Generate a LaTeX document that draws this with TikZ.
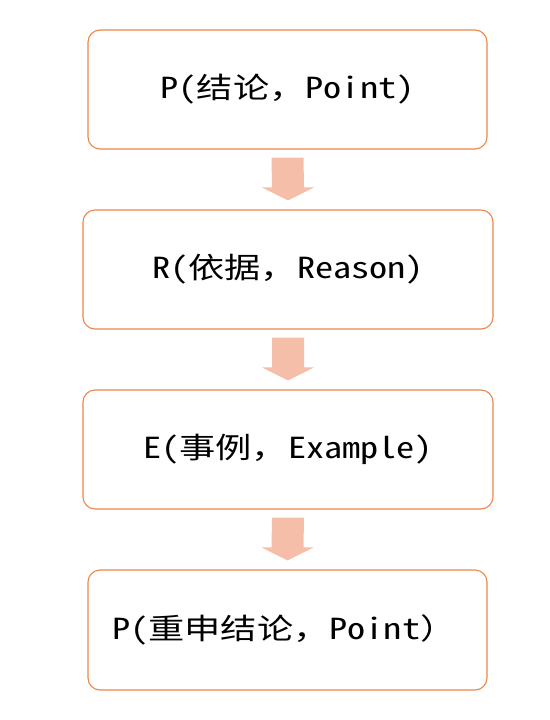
\documentclass[tikz,border=0pt]{standalone}
\usepackage{fontspec}
\newfontfamily\cjk{Noto Sans CJK SC}
\newfontfamily\halflat[RawFeature=+hwid]{Noto Sans CJK SC}
\usetikzlibrary{calc}
\definecolor{boxline}{RGB}{235,135,72}
\definecolor{arrowfill}{RGB}{244,190,168}
\newcommand\widetext[1]{\scalebox{1.25}[1]{#1}}
\newcommand\hl[1]{{\halflat #1}}
\tikzset{
  stepbox/.style={draw=boxline, line width=1.1pt, rounded corners=12pt, fill=white,
    minimum height=119pt, inner sep=0pt, font=\cjk\fontsize{29}{34}\selectfont},
  blockarrow/.style={fill=arrowfill, draw=none}
}
\begin{document}
\begin{tikzpicture}[x=1pt,y=-1pt]
\useasboundingbox (0,0) rectangle (549,720);
\node[stepbox, minimum width=399pt] (b1) at (287.5,89.5) {\widetext{\hl{P(}结论，\hl{Point)}}};
\node[stepbox, minimum width=410pt] (b2) at (288,269.5) {\widetext{\hl{R(}依据，\hl{Reason)}}};
\node[stepbox, minimum width=410pt] (b3) at (288,449.5) {\widetext{\hl{E(}事例，\hl{Example)}}};
\node[stepbox, minimum height=120pt, text width=351pt, inner xsep=24pt, align=left] (b4) at (287.5,630) {\widetext{\hl{P(}重申结论，\hl{Point}）}};
\foreach \a/\b in {b1/b2, b2/b3, b3/b4}{
  \fill[blockarrow]
    ($(\a.south)+(-16,8)$) -- ($(\a.south)+(16,8)$) --
    ($(\b.north)+(16,-22)$) -- ($(\b.north)+(26,-22)$) --
    ($(\b.north)+(0,-9)$) --
    ($(\b.north)+(-26,-22)$) -- ($(\b.north)+(-16,-22)$) -- cycle;
}
\end{tikzpicture}
\end{document}
